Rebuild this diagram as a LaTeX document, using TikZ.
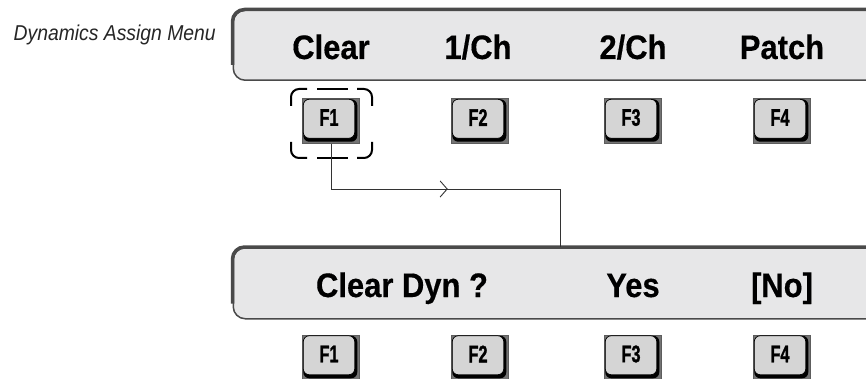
\documentclass[tikz,border=0pt]{standalone}
\usepackage{fontspec}
\setmainfont{Liberation Sans}
\newfontfamily\keyfont[FakeStretch=0.68,FakeBold=1.2]{Liberation Sans Bold}
\newfontfamily\barfont[FakeStretch=0.91,FakeBold=0.4]{Liberation Sans Bold}
\newfontfamily\menufont[FakeStretch=0.9]{Liberation Sans Italic}
\usetikzlibrary{arrows.meta,decorations.markings,calc}
\definecolor{barfill}{HTML}{E7E7E8}
\definecolor{barline}{HTML}{4A4A4A}
\definecolor{keyout}{HTML}{747474}
\definecolor{keyin}{HTML}{D5D5D5}
\definecolor{connc}{HTML}{333333}
\newcommand\fkey[4]{%
  \node[keybox] (#1) at (#2,#3) {};
  \fill[black, rounded corners=6] ($(#1.north west)+(1,1)$) rectangle ($(#1.south east)+(-2.5,-2)$);
  \draw[keyin fill] ($(#1.north west)+(1,1)$) rectangle ($(#1.south east)+(-5,-5.5)$);
  \node[keylabel] at ($(#1.center)+(-2,-3.5)$) {#4};
}
\tikzset{
  bar/.style={draw=barline, line width=1.5pt, fill=barfill, rounded corners=12pt,
    minimum width=700pt, inner sep=0pt, anchor=north west},
  thickedge/.style={draw=barline, line width=3.5pt, rounded corners=12pt},
  keybox/.style={draw=keyout!80!black, line width=0.5pt, fill=keyout, minimum width=57pt,
    minimum height=45pt, inner sep=0pt},
  keyin fill/.style={fill=keyin, draw=black, line width=0.7pt, rounded corners=6},
  keylabel/.style={font=\keyfont\fontsize{24}{24}\selectfont, inner sep=0pt},
  menulabel/.style={font=\barfont\fontsize{34}{34}\selectfont, inner sep=0pt, anchor=base},
  sidelabel/.style={font=\menufont\fontsize{21.5}{21.5}\selectfont, text=black!85,
    inner sep=0pt, anchor=base east},
  selbox/.style={draw=black, line width=2pt, rounded corners=8pt},
  conn/.style={draw=connc, line width=0.9pt},
}
\begin{document}
\begin{tikzpicture}[x=1pt,y=-1pt]
\useasboundingbox (0,0) rectangle (866,379);
\clip (0,0) rectangle (866,379);
\fill[white] (0,0) rectangle (866,379);

% side label
\node[sidelabel] (side) at (216,41) {Dynamics Assign Menu};

% top bar
\node[bar, minimum height=70pt] (bar1) at (232.5,9.5) {};
\draw[thickedge] ([yshift=16pt]bar1.south west) -- (bar1.north west) -- ([xshift=40pt]bar1.north east);
\node[menulabel] (t1) at (331,59) {Clear};
\node[menulabel] (t2) at (478,59) {1/Ch};
\node[menulabel] (t3) at (633,59) {2/Ch};
\node[menulabel] (t4) at (782,59) {Patch};

% top keys
\fkey{k1}{331}{121}{F1}
\fkey{k2}{480}{121}{F2}
\fkey{k3}{633}{121}{F3}
\fkey{k4}{782}{121}{F4}

% selection marker around F1
\draw[selbox] (291,106) -- (291,89) -- (307,89);
\draw[selbox] (317,89) -- (348,89);
\draw[selbox] (357,89) -- (372,89) -- (372,106);
\draw[selbox] (291,142) -- (291,158) -- (307,158);
\draw[selbox] (317,158) -- (348,158);
\draw[selbox] (357,158) -- (372,158) -- (372,142);

% bottom bar
\node[bar, minimum height=71pt] (bar2) at (232.5,247) {};
\draw[thickedge] ([yshift=16pt]bar2.south west) -- (bar2.north west) -- ([xshift=40pt]bar2.north east);
\node[menulabel] (u1) at (402,297) {Clear Dyn ?};
\node[menulabel] (u3) at (633,297) {Yes};
\node[menulabel] (u4) at (782,297) {[No]};

% bottom keys
\fkey{b1}{331}{357.5}{F1}
\fkey{b2}{480}{357.5}{F2}
\fkey{b3}{633}{357.5}{F3}
\fkey{b4}{782}{357.5}{F4}

% connector
\coordinate (j2) at (560,189);
\draw[conn, postaction={decorate}, decoration={markings,
  mark=at position 162pt with {\arrow{Straight Barb[length=7pt,width=16pt]}}}]
  (k1.south) |- (j2) -- (j2 |- bar2.north);
\end{tikzpicture}
\end{document}
